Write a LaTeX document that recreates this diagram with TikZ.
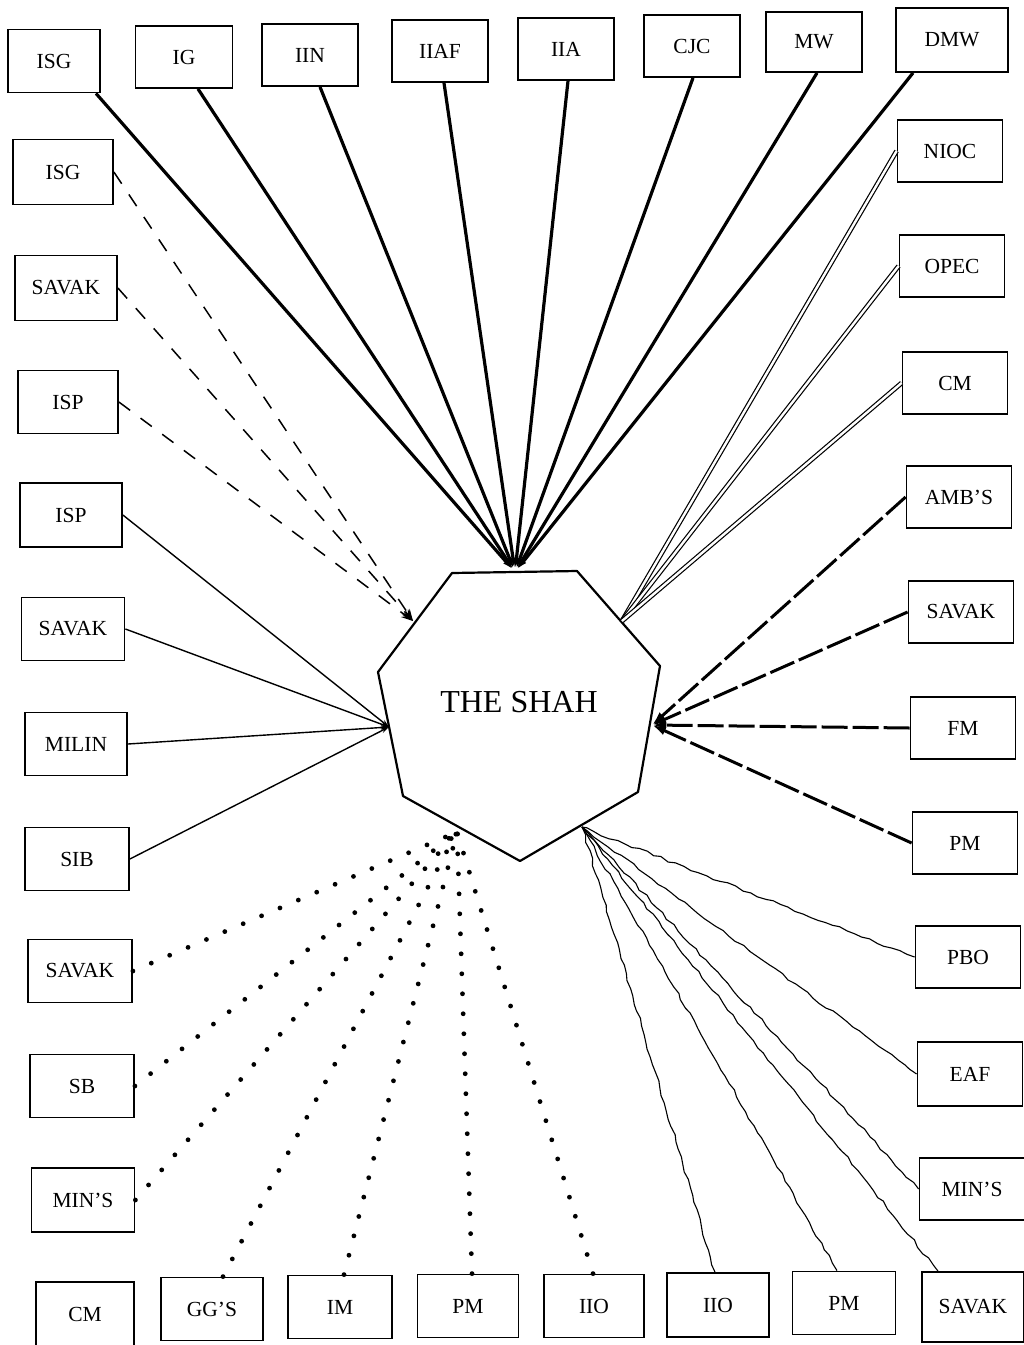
\documentclass[tikz,border=0pt]{standalone}
\usepackage{fontspec}
\setmainfont{Liberation Serif}
\usetikzlibrary{arrows.meta,decorations.pathmorphing}
\begin{document}
\begin{tikzpicture}[x=1pt,y=-1pt,
  box/.style={draw,line width=1.8pt,fill=white,inner sep=0pt,
    minimum width=100pt,minimum height=63pt,font=\fontsize{21.5}{25}\selectfont},
  topbox/.style={box,minimum width=96pt,minimum height=62pt},
  rbox/.style={box,minimum width=105pt,minimum height=62pt},
  heavylink/.style={line width=3.2pt,-{Latex[length=14pt,width=6pt]}},
  dashlink/.style={line width=1.5pt,dash pattern=on 14pt off 13pt,-{Stealth[length=12pt,width=8pt]}},
  thinlink/.style={line width=1.4pt,-{Stealth[length=8pt,width=5pt]}},
  doublelink/.style={double,line width=1.2pt,double distance=2.4pt},
  barlink/.style={line width=3pt,dash pattern=on 26pt off 5pt,-{Latex[length=14pt,width=9pt]}},
  wavylink/.style={line width=1.1pt,decorate,
    decoration={random steps,segment length=8pt,amplitude=1.3pt}},
  dotlink/.style={line width=4.8pt,line cap=round,dash pattern=on 0pt off 20pt}
]
\pgfmathsetseed{7}
\useasboundingbox (0,0) rectangle (1024,1345);
\fill[white] (0,0) rectangle (1024,1345);

% the central heptagon
\draw[line width=2.2pt,fill=white,line join=round]
  (452,573) -- (577,571) -- (660,666) -- (638,792) -- (520,861) -- (403,796) -- (378,672) -- cycle;
\node[font=\fontsize{32}{36}\selectfont,inner sep=0pt] (shah) at (519,702) {THE SHAH};

% meeting points on the border of the heptagon
\coordinate (hubT)  at (515,572);
\coordinate (hubUL) at (413,621);
\coordinate (hubL)  at (389,727);
\coordinate (hubR)  at (652,725);
\coordinate (hubUR) at (622,621);
\coordinate (hubDR) at (582,827);
\coordinate (hubDL) at (457,832);

% top row
\node[topbox,minimum width=92pt,minimum height=63pt] (tISG) at (54,61) {ISG};
\node[topbox,minimum width=97pt] (tIG) at (184,57) {IG};
\node[topbox] (tIIN) at (310,55) {IIN};
\node[topbox] (tIIAF) at (440,51) {IIAF};
\node[topbox] (tIIA) at (566,49) {IIA};
\node[topbox] (tCJC) at (692,46) {CJC};
\node[topbox,minimum height=60pt] (tMW) at (814,42) {MW};
\node[topbox,minimum width=112pt,minimum height=64pt] (tDMW) at (952,40) {DMW};

% left column
\node[box,minimum height=65pt] (lISGa) at (63,172) {ISG};
\node[box,minimum width=102pt,minimum height=65pt] (lSAVAKa) at (66,288) {SAVAK};
\node[box] (lISPa) at (68,402) {ISP};
\node[box,minimum width=102pt,minimum height=64pt] (lISPb) at (71,515) {ISP};
\node[box,minimum width=103pt] (lSAVAKb) at (73,629) {SAVAK};
\node[box,minimum width=102pt] (lMILIN) at (76,744) {MILIN};
\node[box,minimum width=104pt] (lSIB) at (77,859) {SIB};
\node[box,minimum width=104pt] (lSAVAKc) at (80,971) {SAVAK};
\node[box,minimum width=104pt] (lSB) at (82,1086) {SB};
\node[box,minimum width=103pt,minimum height=64pt] (lMINS) at (83,1200) {MIN'S};

% bottom row
\node[box,minimum width=98pt,minimum height=64pt] (bCM) at (85,1314) {CM};
\node[box,minimum width=102pt] (bGGS) at (212,1309) {GG'S};
\node[box,minimum width=104pt] (bIM) at (340,1307) {IM};
\node[box,minimum width=101pt] (bPM) at (468,1306) {PM};
\node[box] (bIIO) at (594,1306) {IIO};
\node[box,minimum width=102pt,minimum height=64pt] (bIIOb) at (718,1305) {IIO};
\node[box,minimum width=103pt] (bPMb) at (844,1303) {PM};
\node[box,minimum width=102pt,minimum height=70pt] (bSAVAK) at (973,1307) {SAVAK};

% right column
\node[rbox] (rNIOC) at (950,151) {NIOC};
\node[rbox] (rOPEC) at (952,266) {OPEC};
\node[rbox] (rCM) at (955,383) {CM};
\node[rbox] (rAMBS) at (959,497) {AMB'S};
\node[rbox] (rSAVAK) at (961,612) {SAVAK};
\node[rbox] (rFM) at (963,728) {FM};
\node[rbox] (rPM) at (965,843) {PM};
\node[rbox] (rPBO) at (968,957) {PBO};
\node[rbox,minimum height=64pt] (rEAF) at (970,1074) {EAF};
\node[rbox] (rMINS) at (972,1189) {MIN'S};

% heavy lines from the top row
\foreach \n/\dx in {tISG/42,tIG/14,tIIN/10,tIIAF/4,tIIA/2,tCJC/1,tMW/3,tDMW/-39}
  \draw[heavylink] ([xshift=\dx pt]\n.south) -- (hubT);

% dashed lines, upper left
\foreach \n in {lISGa,lSAVAKa,lISPa}
  \draw[dashlink] (\n.east) -- (hubUL);

% thin lines, left
\foreach \n in {lISPb,lSAVAKb,lMILIN,lSIB}
  \draw[thinlink] (\n.east) -- (hubL);

% double lines, upper right
\foreach \n in {rNIOC,rOPEC,rCM}
  \draw[doublelink] (\n.west) -- (hubUR);

% heavy dashed lines, right
\foreach \n in {rAMBS,rSAVAK,rFM,rPM}
  \draw[barlink] (\n.west) -- (hubR);

% wavering lines, lower right
\foreach \n in {rPBO,rEAF,rMINS}
  \draw[wavylink] (\n.west) -- (hubDR);
\draw[wavylink] ([xshift=-35pt]bSAVAK.north) -- (hubDR);
\draw[wavylink] ([xshift=-7pt]bPMb.north) -- (hubDR);
\draw[wavylink] ([xshift=-3pt]bIIOb.north) -- (hubDR);

% dotted lines, lower left
\foreach \n in {lSAVAKc,lSB,lMINS}
  \draw[dotlink] (\n.east) -- (hubDL);
\draw[dotlink] ([xshift=11pt]bGGS.north) -- (hubDL);
\draw[dotlink] ([xshift=4pt]bIM.north) -- (hubDL);
\draw[dotlink] ([xshift=4pt]bPM.north) -- (hubDL);
\draw[dotlink] ([xshift=-1pt]bIIO.north) -- (hubDL);
\end{tikzpicture}
\end{document}
